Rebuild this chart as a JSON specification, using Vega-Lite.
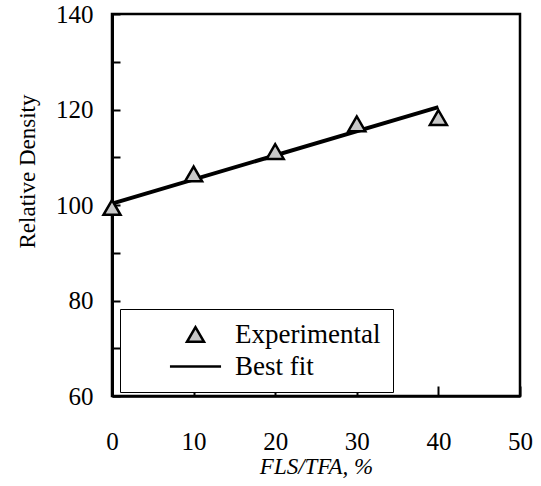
{
  "$schema": "https://vega.github.io/schema/vega-lite/v6.json",
  "autosize": {"type": "none"},
  "width": 408,
  "height": 382,
  "padding": {"left": 112, "top": 14, "right": 21, "bottom": 90},
  "background": "white",
  "config": {
    "view": {"stroke": "black", "strokeWidth": 2.5},
    "font": "Liberation Serif",
    "axis": {
      "labelFont": "Liberation Serif",
      "labelFontSize": 25,
      "labelColor": "black",
      "titleFont": "Liberation Serif",
      "titleColor": "black",
      "titleFontWeight": "normal",
      "domainColor": "black",
      "tickColor": "black",
      "grid": false
    }
  },
  "datasets": {
    "points": [
      {"fls": 0, "density": 99.5, "series": "Experimental"},
      {"fls": 10, "density": 106.5, "series": "Experimental"},
      {"fls": 20, "density": 111.2, "series": "Experimental"},
      {"fls": 30, "density": 117.0, "series": "Experimental"},
      {"fls": 40, "density": 118.3, "series": "Experimental"}
    ],
    "fit": [
      {"fls": 0, "density": 100.3},
      {"fls": 40, "density": 120.5}
    ]
  },
  "layer": [
    {
      "data": {"name": "fit"},
      "mark": {"type": "line", "color": "black", "strokeWidth": 4},
      "encoding": {
        "x": {"field": "fls", "type": "quantitative",
          "scale": {"domain": [0, 50], "nice": false, "zero": false},
          "axis": {
            "values": [0, 10, 20, 30, 40, 50],
            "tickSize": -10,
            "tickWidth": 2,
            "domainWidth": 2.5,
            "labelPadding": 43,
            "labelFlush": false,
            "labelFont": "Liberation Serif",
            "labelFontSize": 25,
            "title": "FLS/TFA, %",
            "titleFont": "Liberation Serif",
            "titleFontSize": 23,
            "titleFontStyle": "italic",
            "titleBaseline": "top",
            "titleY": 59
          }
        },
        "y": {"field": "density", "type": "quantitative",
          "scale": {"domain": [60, 140], "nice": false, "zero": false},
          "axis": {
            "values": [60, 70, 80, 90, 100, 110, 120, 130, 140],
            "labelExpr": "datum.value % 20 == 0 ? datum.label : ''",
            "tickSize": -8,
            "tickWidth": 2,
            "domainWidth": 3,
            "labelPadding": 27,
            "labelFlush": false,
            "labelFont": "Liberation Serif",
            "labelFontSize": 25,
            "title": "Relative Density",
            "titleFont": "Liberation Serif",
            "titleFontSize": 23,
            "titleX": -73,
            "titleY": 157,
            "titleAngle": -90,
            "titleBaseline": "bottom",
            "titleAlign": "center"
          }
        }
      }
    },
    {
      "data": {"name": "points"},
      "mark": {"type": "point", "filled": true, "fill": "#c8c8c8", "stroke": "black", "strokeWidth": 2.5, "size": 290, "opacity": 1},
      "encoding": {
        "x": {"field": "fls", "type": "quantitative"},
        "y": {"field": "density", "type": "quantitative"},
        "shape": {
          "field": "series", "type": "nominal",
          "scale": {"domain": ["Experimental", "Best fit"], "range": ["triangle-up", "M-3,0L3,0"]},
          "legend": {
            "title": null,
            "orient": "none",
            "legendX": 8,
            "legendY": 295,
            "padding": 12,
            "fillColor": "white",
            "strokeColor": "black",
            "symbolSize": 290,
            "symbolStrokeWidth": 2.5,
            "symbolOffset": 50,
            "labelOffset": 26,
            "labelFont": "Liberation Serif",
            "labelFontSize": 27,
            "labelColor": "black",
            "labelLimit": 400,
            "rowPadding": 4,
            "encode": {
              "legend": {"update": {"strokeWidth": {"value": 2}}},
              "symbols": {"update": {
                "strokeWidth": {"signal": "datum.value === 'Best fit' ? 4 : 2.5"},
                "fill": {"signal": "datum.value === 'Best fit' ? 'transparent' : '#c8c8c8'"},
                "stroke": {"value": "black"},
                "opacity": {"value": 1}
              }}
            }
          }
        }
      }
    }
  ]
}
